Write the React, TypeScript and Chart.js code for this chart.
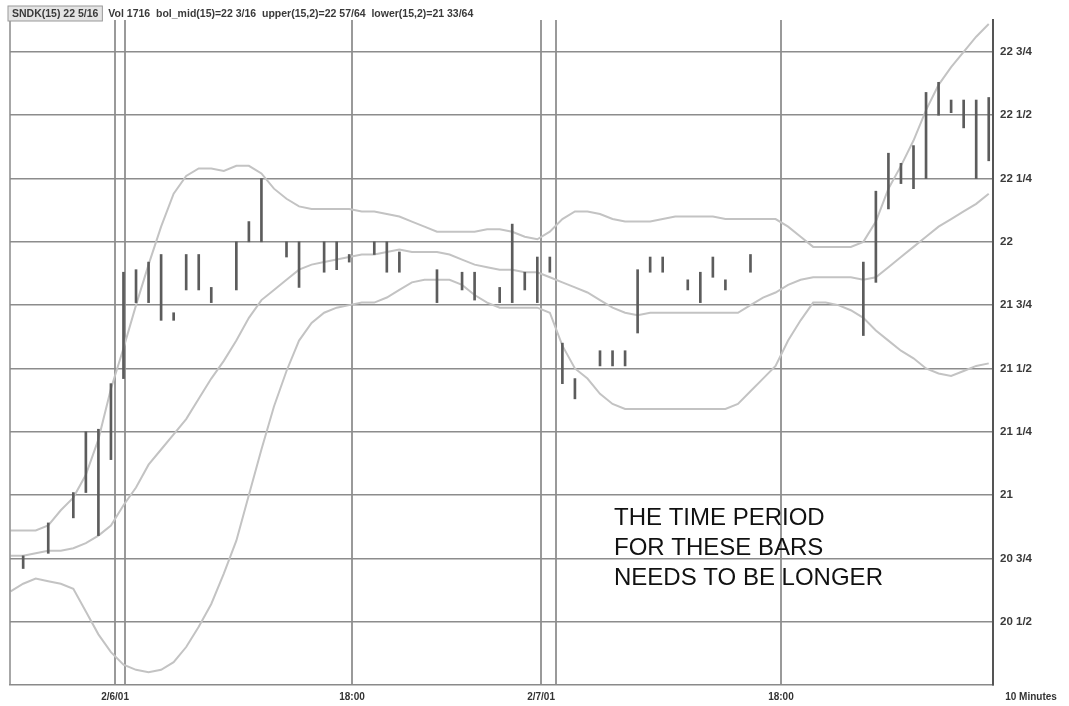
import React, { useEffect, useRef } from "react";
import { Chart, registerables } from "chart.js";

Chart.register(...registerables);

// ---- data (10-minute bars, index = bar slot) ----
const barIndex = [1, 3, 5, 6, 7, 8, 9, 10, 11, 12, 13, 14, 15, 16, 18, 19, 20, 22, 23, 25, 26, 27, 29, 30, 31, 34, 36, 37, 39, 40, 41, 42, 43, 44, 45, 47, 48, 49, 50, 51, 52, 54, 55, 56, 57, 59, 68, 69, 70, 71, 72, 73, 74, 75, 76, 77, 78];
const barLow = [20.71, 20.77, 20.91, 21.01, 20.84, 21.14, 21.46, 21.76, 21.76, 21.69, 21.69, 21.81, 21.81, 21.76, 21.81, 22.0, 22.0, 21.94, 21.82, 21.88, 21.89, 21.92, 21.95, 21.88, 21.88, 21.76, 21.81, 21.77, 21.76, 21.76, 21.81, 21.76, 21.88, 21.44, 21.38, 21.51, 21.51, 21.51, 21.64, 21.88, 21.88, 21.81, 21.76, 21.86, 21.81, 21.88, 21.63, 21.84, 22.13, 22.23, 22.21, 22.25, 22.5, 22.51, 22.45, 22.25, 22.32];
const barHigh = [20.76, 20.89, 21.01, 21.25, 21.26, 21.44, 21.88, 21.89, 21.92, 21.95, 21.72, 21.95, 21.95, 21.82, 22.0, 22.08, 22.25, 22.0, 22.0, 22.0, 22.0, 21.95, 22.0, 22.0, 21.96, 21.89, 21.88, 21.88, 21.82, 22.07, 21.88, 21.94, 21.94, 21.6, 21.46, 21.57, 21.57, 21.57, 21.89, 21.94, 21.94, 21.85, 21.88, 21.94, 21.85, 21.95, 21.92, 22.2, 22.35, 22.31, 22.38, 22.59, 22.63, 22.56, 22.56, 22.56, 22.57];

const upperBand = [
  20.86, 20.86, 20.86, 20.88, 20.94, 20.99, 21.08, 21.22, 21.42, 21.58,
  21.75, 21.91, 22.06, 22.19, 22.26, 22.29, 22.29, 22.28, 22.3, 22.3,
  22.27, 22.21, 22.17, 22.14, 22.13, 22.13, 22.13, 22.13, 22.12, 22.12,
  22.11, 22.1, 22.08, 22.06, 22.04, 22.04, 22.04, 22.04, 22.05, 22.05,
  22.04, 22.02, 22.01, 22.04, 22.09, 22.12, 22.12, 22.11, 22.09, 22.08,
  22.08, 22.08, 22.09, 22.1, 22.1, 22.1, 22.1, 22.09, 22.09, 22.09,
  22.09, 22.09, 22.06, 22.02, 21.98, 21.98, 21.98, 21.98, 22.0, 22.08,
  22.21, 22.3, 22.4, 22.52, 22.62, 22.69, 22.75, 22.81, 22.86,
];
const middleBand = [
  20.76, 20.76, 20.77, 20.78, 20.78, 20.79, 20.81, 20.84, 20.88, 20.96,
  21.03, 21.12, 21.18, 21.24, 21.3, 21.38, 21.46, 21.53, 21.61, 21.7,
  21.77, 21.81, 21.85, 21.89, 21.91, 21.92, 21.93, 21.94, 21.95, 21.95,
  21.96, 21.97, 21.96, 21.96, 21.96, 21.95, 21.93, 21.91, 21.9, 21.89,
  21.89, 21.88, 21.88, 21.86, 21.84, 21.82, 21.8, 21.77, 21.74, 21.72,
  21.71, 21.72, 21.72, 21.72, 21.72, 21.72, 21.72, 21.72, 21.72, 21.75,
  21.78, 21.8, 21.83, 21.85, 21.86, 21.86, 21.86, 21.86, 21.85, 21.86,
  21.9, 21.94, 21.98, 22.02, 22.06, 22.09, 22.12, 22.15, 22.19,
];
const lowerBand = [
  20.62, 20.65, 20.67, 20.66, 20.65, 20.63, 20.54, 20.45, 20.38, 20.33,
  20.31, 20.3, 20.31, 20.34, 20.4, 20.48, 20.57, 20.69, 20.82, 21.0,
  21.18, 21.35, 21.49, 21.61, 21.68, 21.72, 21.74, 21.75, 21.76, 21.76,
  21.78, 21.81, 21.84, 21.85, 21.85, 21.85, 21.83, 21.79, 21.76, 21.74,
  21.74, 21.74, 21.74, 21.72, 21.59, 21.5, 21.46, 21.4, 21.36, 21.34,
  21.34, 21.34, 21.34, 21.34, 21.34, 21.34, 21.34, 21.34, 21.36, 21.41,
  21.46, 21.51, 21.61, 21.69, 21.76, 21.76, 21.75, 21.73, 21.7, 21.65,
  21.61, 21.57, 21.54, 21.5, 21.48, 21.47, 21.49, 21.51, 21.52,
];

const priceTicks = [20.5, 20.75, 21, 21.25, 21.5, 21.75, 22, 22.25, 22.5, 22.75];
const priceTickLabels = ["20 1/2", "20 3/4", "21", "21 1/4", "21 1/2", "21 3/4", "22", "22 1/4", "22 1/2", "22 3/4"];
const sessionLines = [8.33, 9.12, 27.22, 42.3, 43.49, 61.43];
const sessionLabels = ["2/6/01", "", "18:00", "2/7/01", "", "18:00"];
const periodLabel = "10 Minutes";
const headerBoxText = "SNDK(15) 22 5/16";
const headerText = "Vol 1716  bol_mid(15)=22 3/16  upper(15,2)=22 57/64  lower(15,2)=21 33/64";
const noteLines = ["THE TIME PERIOD", "FOR THESE BARS", "NEEDS TO BE LONGER"];

const FONT = "'Liberation Sans', Arial, sans-serif";

const overlayPlugin = {
  id: "overlay",
  afterDraw(chart: any) {
    const ctx = chart.ctx;
    const a = chart.chartArea;
    ctx.save();
    // frame left
    ctx.strokeStyle = "#8a8a8a";
    ctx.lineWidth = 1.5;
    ctx.beginPath();
    ctx.moveTo(a.left, a.top);
    ctx.lineTo(a.left, a.bottom);
    ctx.stroke();

    // header
    ctx.font = `bold 10.5px ${FONT}`;
    ctx.textBaseline = "middle";
    ctx.textAlign = "left";
    const bw = ctx.measureText(headerBoxText).width;
    ctx.fillStyle = "#e4e4e4";
    ctx.fillRect(a.left - 2, 6, bw + 8, 15);
    ctx.strokeStyle = "#9a9a9a";
    ctx.lineWidth = 1;
    ctx.strokeRect(a.left - 2, 6, bw + 8, 15);
    ctx.fillStyle = "#3a3a3a";
    ctx.fillText(headerBoxText, a.left + 2, 14);
    ctx.fillText(headerText, a.left + bw + 12, 14);

    // annotation
    ctx.font = `24px ${FONT}`;
    ctx.fillStyle = "#111";
    noteLines.forEach((t, i) => ctx.fillText(t, a.left + 604, 518 + i * 30));

    // period label
    ctx.font = `bold 10px ${FONT}`;
    ctx.fillStyle = "#333";
    ctx.textAlign = "center";
    ctx.fillText(periodLabel, 1031, 697);
    ctx.restore();
  },
};

export default function App() {
  const ref = useRef<HTMLCanvasElement | null>(null);
  useEffect(() => {
    document.body.style.margin = "0";
    const bars = barIndex.map((x, i) => ({ x, y: [barLow[i], barHigh[i]] }));
    const band = (arr: number[]) => arr.map((y, x) => ({ x, y }));
    const lineStyle = {
      type: "line" as const,
      borderColor: "#c3c3c3",
      borderWidth: 2,
      pointRadius: 0,
      tension: 0,
      fill: false,
      order: 2,
    };
    const chart = new Chart(ref.current as HTMLCanvasElement, {
      type: "bar",
      data: {
        datasets: [
          { ...lineStyle, label: "upper", data: band(upperBand) } as any,
          { ...lineStyle, label: "middle", data: band(middleBand) } as any,
          { ...lineStyle, label: "lower", data: band(lowerBand) } as any,
          {
            type: "bar",
            label: "bars",
            data: bars as any,
            backgroundColor: "#5c5c5c",
            borderWidth: 0,
            barThickness: 2,
            grouped: false,
            order: 1,
          } as any,
        ],
      },
      options: {
        responsive: false,
        animation: false,
        layout: { padding: { left: 10, top: 20, right: 0, bottom: 0 } },
        plugins: { legend: { display: false }, tooltip: { enabled: false } },
        scales: {
          x: {
            type: "linear",
            min: -0.05,
            max: 78.34,
            offset: false,
            afterBuildTicks: (s: any) => {
              s.ticks = sessionLines.map((v) => ({ value: v }));
            },
            afterFit: (s: any) => {
              s.height = 21;
            },
            ticks: {
              autoSkip: false,
              maxRotation: 0,
              padding: 6,
              color: "#333",
              font: { family: FONT, size: 10, weight: "bold" },
              callback: (_v: any, i: number) => sessionLabels[i],
            },
            grid: { color: "#9a9a9a", lineWidth: 2, drawTicks: false, offset: false },
            border: { display: true, color: "#8a8a8a", width: 1.5 },
          },
          y: {
            type: "linear",
            position: "right",
            min: 20.25,
            max: 22.876,
            afterBuildTicks: (s: any) => {
              s.ticks = priceTicks.map((v) => ({ value: v }));
            },
            afterFit: (s: any) => {
              s.width = 76;
            },
            ticks: {
              padding: 7,
              color: "#3a3a3a",
              font: { family: FONT, size: 11.5, weight: "bold" },
              callback: (_v: any, i: number) => priceTickLabels[i],
            },
            grid: { color: "#8c8c8c", lineWidth: 1.5, drawTicks: false },
            border: { display: true, color: "#555", width: 2 },
          },
        },
      } as any,
      plugins: [overlayPlugin],
    });
    return () => chart.destroy();
  }, []);
  return <canvas ref={ref} width={1069} height={706} style={{ display: "block" }} />;
}
